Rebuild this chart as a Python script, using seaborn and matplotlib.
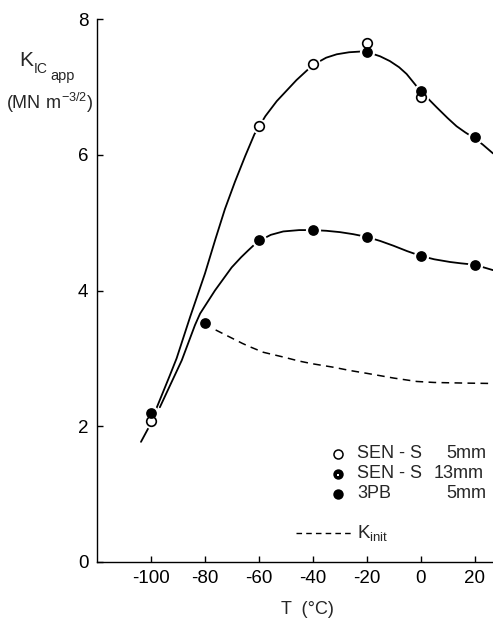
import numpy as np
import pandas as pd
import seaborn as sns
import matplotlib
matplotlib.use("Agg")
import matplotlib.pyplot as plt

# ---- data ----
sen5_T = [-100, -60, -40, -20, 0]
sen5_K = [2.08, 6.42, 7.33, 7.65, 6.85]

sen13_T = [-100, -20, 0, 20]
sen13_K = [2.19, 7.51, 6.94, 6.26]

pb3_T = [-80, -60, -40, -20, 0, 20]
pb3_K = [3.52, 4.74, 4.89, 4.79, 4.51, 4.38]

# hand-drawn fitted curves
upper_T = [-103.6, -100.9, -97.3, -93, -90.4, -85.4, -79.9, -76, -72.5, -68.8,
           -65, -61.6, -57.5, -53.3, -46, -40, -35, -31.1, -26.5, -22.5, -18.8,
           -15, -11.4, -8, -5.2, -0.3, 5.9, 10, 13.3, 16.5, 19.7, 23, 26.8]
upper_K = [1.77, 1.97, 2.32, 2.74, 3.0, 3.61, 4.25, 4.76, 5.20, 5.60,
           5.98, 6.30, 6.57, 6.79, 7.10, 7.32, 7.43, 7.48, 7.51, 7.52, 7.50,
           7.45, 7.38, 7.29, 7.19, 6.95, 6.70, 6.54, 6.42, 6.33, 6.25, 6.15, 6.02]

lower_T = [-96.6, -92.5, -88.5, -83.6, -81.7, -76.2, -70, -66.5, -63.9, -60.4,
           -55.5, -50.9, -45, -40, -35, -29.9, -25, -20, -15, -10.1, -5, 0,
           5, 10.9, 15, 20, 26.8]
lower_K = [2.28, 2.63, 2.97, 3.49, 3.66, 4.0, 4.34, 4.49, 4.59, 4.72,
           4.82, 4.87, 4.89, 4.89, 4.88, 4.86, 4.83, 4.79, 4.73, 4.66, 4.58, 4.51,
           4.46, 4.42, 4.40, 4.38, 4.30]

kinit_T = [-80, -78, -74, -70, -66, -63.2, -58.3, -50.9, -45, -40, -32.4, -26,
           -20, -10, -1.5, 5, 10.9, 18, 26.8]
kinit_K = [3.52, 3.46, 3.38, 3.30, 3.22, 3.17, 3.09, 3.02, 2.96, 2.92, 2.87, 2.82,
           2.78, 2.71, 2.66, 2.645, 2.64, 2.635, 2.63]

x_ticks = [-100, -80, -60, -40, -20, 0, 20]
y_ticks = [0, 2, 4, 6, 8]

legend_names = ["SEN - S", "SEN - S", "3PB"]
legend_sizes = ["5mm", "13mm", "5mm"]

# ---- style ----
sns.set_theme(style="ticks")
plt.rcParams['font.family'] = ['Liberation Sans', 'DejaVu Sans']
plt.rcParams['axes.unicode_minus'] = False
plt.rcParams['mathtext.default'] = 'regular'

fig = plt.figure(figsize=(4.93, 6.25), dpi=100)
ax = fig.add_axes([96.7 / 493, 1 - 562 / 625, (493 - 96.7) / 493, (562 - 19) / 625])

lw = 1.3
for T, K in [(upper_T, upper_K), (lower_T, lower_K)]:
    sns.lineplot(x=T, y=K, sort=False, estimator=None, color='black', lw=lw,
                 ax=ax, zorder=2)
sns.lineplot(x=kinit_T, y=kinit_K, sort=False, estimator=None, color='black',
             lw=1.1, ax=ax, zorder=2, linestyle=(0, (5, 3.5)))

# white halos that break the lines around each symbol
allT = sen5_T + sen13_T + pb3_T
allK = sen5_K + sen13_K + pb3_K
ax.scatter(allT, allK, s=120, color='white', linewidths=0, zorder=3)

ax.scatter(sen5_T, sen5_K, s=48, facecolor='white', edgecolor='black',
           linewidths=1.2, zorder=4)
ax.scatter(sen13_T, sen13_K, s=60, color='black', linewidths=0, zorder=5)
ax.scatter(pb3_T, pb3_K, s=60, color='black', linewidths=0, zorder=5)

ax.set_xlim(-120, 26.8)
ax.set_ylim(0, 8)
ax.set_xticks(x_ticks)
ax.set_yticks(y_ticks)
ax.set_xticklabels([str(v) for v in x_ticks])
ax.set_yticklabels([str(v) for v in y_ticks])
ax.tick_params(direction='in', length=4, width=1, labelsize=13.5, colors='black')
ax.tick_params(axis='x', pad=6)
ax.tick_params(axis='y', pad=6)
for s in ['top', 'right']:
    ax.spines[s].set_visible(False)
for s in ['left', 'bottom']:
    ax.spines[s].set_linewidth(1.0)
    ax.spines[s].set_color('black')
ax.set_xlabel('')
ax.set_ylabel('')


def fx(px):
    return px / 493


def fy(py):
    return 1 - py / 625


# axis titles
fig.text(fx(307), fy(610), 'T  (°C)', ha='center', va='center', fontsize=13)
fig.text(fx(19), fy(60), 'K', ha='left', va='center', fontsize=15)
fig.text(fx(34), fy(69), 'IC', ha='left', va='center', fontsize=10)
fig.text(fx(50), fy(76), 'app', ha='left', va='center', fontsize=10.5)
fig.text(fx(50), fy(103), r'$(MN\ m^{-3/2})$', ha='center', va='center', fontsize=13)

# legend (drawn in figure pixel positions)
rows_y = [454, 474, 494]
size_x = [446, 434, 446]
styles = [dict(marker='o', mfc='white', mec='black', mew=1.1, ms=6.5),
          dict(marker='o', mfc='black', mec='black', mew=0, ms=7.5),
          dict(marker='o', mfc='black', mec='black', mew=0, ms=7.5)]
for name, size, yy, sx, st in zip(legend_names, legend_sizes, rows_y, size_x, styles):
    fig.lines.append(plt.Line2D([fx(338)], [fy(yy)], transform=fig.transFigure,
                                linestyle='none', **st))
    fig.text(fx(357), fy(yy), name, ha='left', va='center', fontsize=13)
    fig.text(fx(sx), fy(yy), size, ha='left', va='center', fontsize=13)
# small notch in the 13mm symbol
fig.lines.append(plt.Line2D([fx(338)], [fy(rows_y[1] + 1)], transform=fig.transFigure,
                            linestyle='none', marker='s', ms=1.8, mfc='white', mew=0))

fig.lines.append(plt.Line2D([fx(296), fx(351)], [fy(533), fy(533)],
                            transform=fig.transFigure, color='black', lw=1.0,
                            linestyle=(0, (4, 3))))
fig.text(fx(357), fy(533), r'$K_{init}$', ha='left', va='center', fontsize=13.5)

fig.savefig('out.png', dpi=100)
